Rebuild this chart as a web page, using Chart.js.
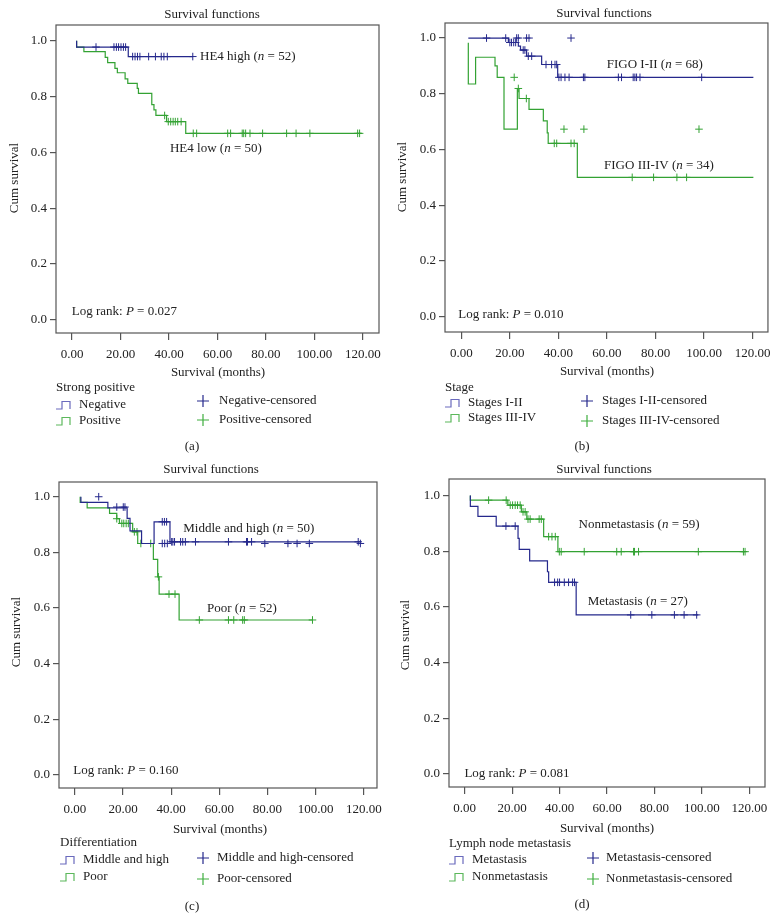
<!DOCTYPE html>
<html>
<head>
<meta charset="utf-8">
<script src="https://cdn.jsdelivr.net/npm/chart.js@4.4.0/dist/chart.umd.min.js"></script>
<style>
html, body { margin: 0; padding: 0; background: #fff; }
#wrap { position: relative; width: 778px; height: 919px; }
canvas { position: absolute; }
</style>
</head>
<body>
<div id="wrap">
  <canvas id="pa" width="389" height="455" style="left:0;top:0"></canvas>
  <canvas id="pb" width="389" height="455" style="left:389px;top:0"></canvas>
  <canvas id="pc" width="389" height="464" style="left:0;top:455px"></canvas>
  <canvas id="pd" width="389" height="464" style="left:389px;top:455px"></canvas>
</div>
<script>
// axis ticks
var xTicks = [0, 20, 40, 60, 80, 100, 120];
var yTicks = [0, 0.2, 0.4, 0.6, 0.8, 1.0];

// (a) HE4 high / low
var aHighTime = [1.9, 1.9, 23.2, 49.8];
var aHighSurv = [1.0, 0.977, 0.943, 0.943];
var aHighCensT = [9.9, 17.3, 18.3, 19.2, 20.2, 21.2, 22.1, 25.0, 26.0, 27.0, 28.0, 31.6, 34.4, 36.8, 37.9, 39.3, 49.8];
var aHighCensS = [0.977, 0.977, 0.977, 0.977, 0.977, 0.977, 0.977, 0.943, 0.943, 0.943, 0.943, 0.943, 0.943, 0.943, 0.943, 0.943, 0.943];
var aLowTime = [1.9, 1.9, 4.9, 13.7, 14.7, 17.7, 18.7, 21.9, 23.0, 26.9, 27.4, 32.9, 33.8, 34.6, 39.0, 46.9, 119.5];
var aLowSurv = [1.0, 0.977, 0.961, 0.940, 0.921, 0.901, 0.885, 0.863, 0.847, 0.829, 0.811, 0.771, 0.752, 0.732, 0.710, 0.668, 0.668];
var aLowCensT = [38.2, 39.7, 40.7, 41.7, 42.6, 43.6, 45.0, 50.0, 51.4, 64.2, 65.4, 70.2, 70.8, 71.6, 73.4, 78.6, 88.5, 92.4, 98.1, 117.8, 118.6];
var aLowCensS = [0.732, 0.71, 0.71, 0.71, 0.71, 0.71, 0.71, 0.668, 0.668, 0.668, 0.668, 0.668, 0.668, 0.668, 0.668, 0.668, 0.668, 0.668, 0.668, 0.668, 0.668];

// (b) FIGO stage
var bEarlyTime = [2.9, 19.4, 23.5, 24.4, 26.9, 33.1, 39.7, 120.3];
var bEarlySurv = [1.0, 0.984, 0.971, 0.957, 0.935, 0.905, 0.859, 0.859];
var bEarlyCensT = [10.4, 18.3, 22.8, 23.5, 26.9, 27.9, 45.2, 20.0, 20.7, 21.6, 22.4, 25.5, 26.2, 27.6, 29.0, 34.9, 37.2, 38.6, 39.3, 40.2, 41.1, 42.7, 44.4, 50.3, 50.9, 64.7, 66.0, 70.8, 71.5, 72.2, 73.6, 99.0];
var bEarlyCensS = [1, 1, 1, 1, 1, 1, 1, 0.984, 0.984, 0.984, 0.984, 0.957, 0.957, 0.935, 0.935, 0.905, 0.905, 0.905, 0.905, 0.859, 0.859, 0.859, 0.859, 0.859, 0.859, 0.859, 0.859, 0.859, 0.859, 0.859, 0.859, 0.859];
var bLateTime = [2.9, 2.9, 5.9, 13.9, 14.8, 17.6, 23.1, 23.8, 27.9, 33.8, 35.4, 35.8, 47.8, 120.3];
var bLateSurv = [0.983, 0.835, 0.931, 0.900, 0.859, 0.673, 0.819, 0.783, 0.744, 0.703, 0.660, 0.622, 0.500, 0.500];
var bLateCensT = [21.8, 23.5, 26.8, 42.3, 50.5, 97.9, 38.3, 39.3, 45.2, 46.5, 70.4, 79.2, 88.8, 92.8];
var bLateCensS = [0.859, 0.819, 0.783, 0.673, 0.673, 0.673, 0.622, 0.622, 0.622, 0.622, 0.5, 0.5, 0.5, 0.5];

// (c) differentiation
var cMidTime = [2.5, 2.5, 13.7, 21.7, 22.9, 27.7, 32.9, 39.5, 118.6];
var cMidSurv = [1.0, 0.980, 0.960, 0.922, 0.877, 0.832, 0.910, 0.838, 0.838];
var cMidCensT = [9.9, 17.4, 20.1, 20.8, 36.3, 37.2, 38.1, 36.3, 37.3, 38.4, 40.2, 40.7, 41.4, 43.9, 44.8, 45.9, 50.1, 63.8, 71.3, 71.7, 73.4, 78.9, 88.5, 92.3, 97.4, 117.7, 118.6];
var cMidCensS = [1.0, 0.963, 0.963, 0.963, 0.91, 0.91, 0.91, 0.832, 0.832, 0.832, 0.838, 0.838, 0.838, 0.838, 0.838, 0.838, 0.838, 0.838, 0.838, 0.838, 0.838, 0.832, 0.832, 0.832, 0.832, 0.838, 0.832];
var cPoorTime = [2.2, 2.2, 5.1, 14.4, 17.4, 18.5, 24.0, 26.1, 32.6, 34.4, 35.0, 43.3, 98.7];
var cPoorSurv = [1.0, 0.980, 0.960, 0.940, 0.921, 0.904, 0.874, 0.832, 0.775, 0.712, 0.650, 0.557, 0.557];
var cPoorCensT = [17.4, 19.5, 20.3, 21.3, 22.2, 24.7, 25.8, 27.4, 31.5, 34.7, 39.1, 41.6, 51.7, 63.8, 66.0, 69.7, 70.4, 98.7];
var cPoorCensS = [0.921, 0.904, 0.904, 0.904, 0.904, 0.874, 0.874, 0.832, 0.832, 0.712, 0.65, 0.65, 0.557, 0.557, 0.557, 0.557, 0.557, 0.557];

// (d) lymph node metastasis
var dMetTime = [2.4, 2.4, 5.6, 13.3, 22.5, 23.0, 27.4, 34.9, 35.4, 47.0, 98.5];
var dMetSurv = [1.0, 0.961, 0.925, 0.890, 0.846, 0.806, 0.765, 0.726, 0.688, 0.571, 0.571];
var dMetCensT = [17.4, 21.3, 37.9, 39.2, 40.0, 42.0, 43.8, 45.5, 46.3, 70.0, 78.9, 88.4, 92.5, 97.8];
var dMetCensS = [0.89, 0.89, 0.688, 0.688, 0.688, 0.688, 0.688, 0.688, 0.688, 0.571, 0.571, 0.571, 0.571, 0.571];
var dNonTime = [2.4, 2.4, 18.2, 23.9, 26.2, 33.3, 39.3, 118.2];
var dNonSurv = [1.0, 0.983, 0.965, 0.941, 0.915, 0.852, 0.798, 0.798];
var dNonCensT = [10.1, 17.5, 19.2, 20.2, 21.3, 22.3, 23.4, 24.6, 25.5, 26.7, 27.6, 31.4, 32.3, 35.4, 36.8, 38.2, 39.9, 40.7, 50.4, 64.1, 66.0, 71.2, 71.6, 73.3, 98.5, 117.5, 118.2];
var dNonCensS = [0.983, 0.983, 0.965, 0.965, 0.965, 0.965, 0.965, 0.941, 0.941, 0.915, 0.915, 0.915, 0.915, 0.852, 0.852, 0.852, 0.798, 0.798, 0.798, 0.798, 0.798, 0.798, 0.798, 0.798, 0.798, 0.798, 0.798];

var BLUE = '#25288c';
var GREEN = '#33a233';
var BLUE_ICON = '#6a6abd';
var GREEN_ICON = '#5cb85c';
var FONT = '"Liberation Serif", "DejaVu Serif", serif';
var INK = '#222';

var panels = [
    {
        id: 'pa', letter: '(a)', H: 455,
        box: { left: 56, top: 25, right: 379, bottom: 333 },
        xMin: -6.6, xMax: 126.6, yMin: -0.047, yMax: 1.056,
        series: [
            { t: aHighTime, s: aHighSurv, ct: aHighCensT, cs: aHighCensS, color: BLUE },
            { t: aLowTime, s: aLowSurv, ct: aLowCensT, cs: aLowCensS, color: GREEN }
        ],
        notes: [
            { x: 52.8, y: 0.943, parts: [['HE4 high ('], ['n', 1], [' = 52)']] },
            { x: 40.4, y: 0.615, parts: [['HE4 low ('], ['n', 1], [' = 50)']] },
            { x: -0.1, y: 0.030, parts: [['Log rank: '], ['P', 1], [' = 0.027']] }
        ],
        title: [212, 15], yTitle: [15, 178], xTitle: [218, 373],
        legend: { head: 'Strong positive', hy: 388, lx: 56, tx: 79, rows: [405, 421], cx: 203, ctx: 219, crows: [401, 420],
                  names: ['Negative', 'Positive'] },
        label: [192, 447]
    },
    {
        id: 'pb', letter: '(b)', H: 455,
        box: { left: 56, top: 23, right: 379, bottom: 332 },
        xMin: -6.7, xMax: 126.3, yMin: -0.055, yMax: 1.054,
        series: [
            { t: bEarlyTime, s: bEarlySurv, ct: bEarlyCensT, cs: bEarlyCensS, color: BLUE },
            { t: bLateTime, s: bLateSurv, ct: bLateCensT, cs: bLateCensS, color: GREEN }
        ],
        notes: [
            { x: 59.9, y: 0.903, parts: [['FIGO I-II ('], ['n', 1], [' = 68)']] },
            { x: 58.8, y: 0.542, parts: [['FIGO III-IV ('], ['n', 1], [' = 34)']] },
            { x: -1.2, y: 0.006, parts: [['Log rank: '], ['P', 1], [' = 0.010']] }
        ],
        title: [215, 14], yTitle: [14, 177], xTitle: [218, 372],
        legend: { head: 'Stage', hy: 388, lx: 56, tx: 79, rows: [403, 418], cx: 198, ctx: 213, crows: [401, 421],
                  names: ['Stages I-II', 'Stages III-IV'] },
        label: [193, 447]
    },
    {
        id: 'pc', letter: '(c)', H: 464,
        box: { left: 59, top: 27, right: 380, bottom: 333 },
        xMin: -6.6, xMax: 125.5, yMin: -0.047, yMax: 1.053,
        series: [
            { t: cMidTime, s: cMidSurv, ct: cMidCensT, cs: cMidCensS, color: BLUE },
            { t: cPoorTime, s: cPoorSurv, ct: cPoorCensT, cs: cPoorCensS, color: GREEN }
        ],
        notes: [
            { x: 45.0, y: 0.884, parts: [['Middle and high ('], ['n', 1], [' = 50)']] },
            { x: 54.9, y: 0.599, parts: [['Poor ('], ['n', 1], [' = 52)']] },
            { x: -0.7, y: 0.014, parts: [['Log rank: '], ['P', 1], [' = 0.160']] }
        ],
        title: [211, 15], yTitle: [17, 177], xTitle: [220, 375],
        legend: { head: 'Differentiation', hy: 388, lx: 60, tx: 83, rows: [405, 422], cx: 203, ctx: 217, crows: [403, 424],
                  names: ['Middle and high', 'Poor'] },
        label: [192, 452]
    },
    {
        id: 'pd', letter: '(d)', H: 464,
        box: { left: 60, top: 24, right: 376, bottom: 332 },
        xMin: -6.6, xMax: 126.6, yMin: -0.047, yMax: 1.059,
        series: [
            { t: dMetTime, s: dMetSurv, ct: dMetCensT, cs: dMetCensS, color: BLUE },
            { t: dNonTime, s: dNonSurv, ct: dNonCensT, cs: dNonCensS, color: GREEN }
        ],
        notes: [
            { x: 48.0, y: 0.897, parts: [['Nonmetastasis ('], ['n', 1], [' = 59)']] },
            { x: 51.9, y: 0.619, parts: [['Metastasis ('], ['n', 1], [' = 27)']] },
            { x: -0.1, y: 0.000, parts: [['Log rank: '], ['P', 1], [' = 0.081']] }
        ],
        title: [215, 15], yTitle: [17, 180], xTitle: [218, 374],
        legend: { head: 'Lymph node metastasis', hy: 389, lx: 60, tx: 83, rows: [405, 422], cx: 204, ctx: 217, crows: [403, 424],
                  names: ['Metastasis', 'Nonmetastasis'] },
        label: [193, 450]
    }
];

function toPoints(xs, ys) {
    var out = [];
    for (var i = 0; i < xs.length; i++) out.push({ x: xs[i], y: ys[i] });
    return out;
}

// text with italic pieces, drawn left-aligned from x
function drawRich(ctx, x, y, parts) {
    ctx.textBaseline = 'middle';
    ctx.textAlign = 'left';
    ctx.fillStyle = INK;
    for (var i = 0; i < parts.length; i++) {
        ctx.font = (parts[i][1] ? 'italic ' : '') + '13px ' + FONT;
        ctx.fillText(parts[i][0], x, y);
        x += ctx.measureText(parts[i][0]).width;
    }
}

function stepIcon(ctx, x, y, color) {
    ctx.strokeStyle = color;
    ctx.lineWidth = 1.2;
    ctx.beginPath();
    ctx.moveTo(x, y + 4);
    ctx.lineTo(x + 6, y + 4);
    ctx.lineTo(x + 6, y - 3.5);
    ctx.lineTo(x + 14, y - 3.5);
    ctx.lineTo(x + 14, y + 4);
    ctx.stroke();
}

function crossIcon(ctx, x, y, color) {
    ctx.strokeStyle = color;
    ctx.lineWidth = 1.2;
    ctx.beginPath();
    ctx.moveTo(x - 6, y); ctx.lineTo(x + 6, y);
    ctx.moveTo(x, y - 6); ctx.lineTo(x, y + 6);
    ctx.stroke();
}

var decorPlugin = {
    id: 'decor',
    afterDraw: function(chart) {
        var p = chart.options.plugins.decor.panel;
        var ctx = chart.ctx;
        var a = chart.chartArea;
        ctx.save();
        // frame
        ctx.strokeStyle = '#555';
        ctx.lineWidth = 1.2;
        ctx.strokeRect(a.left, a.top, a.right - a.left, a.bottom - a.top);

        ctx.fillStyle = INK;
        ctx.font = '13px ' + FONT;
        ctx.textAlign = 'center';
        ctx.textBaseline = 'middle';
        ctx.fillText('Survival functions', p.title[0], p.title[1]);
        ctx.fillText('Survival (months)', p.xTitle[0], p.xTitle[1]);
        ctx.fillText(p.letter, p.label[0], p.label[1]);

        ctx.save();
        ctx.translate(p.yTitle[0], p.yTitle[1]);
        ctx.rotate(-Math.PI / 2);
        ctx.fillText('Cum survival', 0, 0);
        ctx.restore();

        // in-plot labels, placed in data units
        var sx = chart.scales.x, sy = chart.scales.y;
        p.notes.forEach(function(n) {
            drawRich(ctx, sx.getPixelForValue(n.x), sy.getPixelForValue(n.y), n.parts);
        });

        // legend
        var L = p.legend;
        ctx.font = '13px ' + FONT;
        ctx.textAlign = 'left';
        ctx.fillStyle = INK;
        ctx.fillText(L.head, L.lx, L.hy);
        var iconCols = [BLUE_ICON, GREEN_ICON];
        var crossCols = [BLUE, '#3fae3f'];
        for (var i = 0; i < 2; i++) {
            stepIcon(ctx, L.lx, L.rows[i], iconCols[i]);
            ctx.fillStyle = INK;
            ctx.fillText(L.names[i], L.tx, L.rows[i]);
            crossIcon(ctx, L.cx, L.crows[i], crossCols[i]);
            ctx.fillStyle = INK;
            ctx.fillText(L.names[i] + '-censored', L.ctx, L.crows[i]);
        }
        ctx.restore();
    }
};

function makePanel(p) {
    var canvas = document.getElementById(p.id);
    var datasets = [];
    p.series.forEach(function(s) {
        datasets.push({
            type: 'line',
            data: toPoints(s.t, s.s),
            stepped: 'before',
            borderColor: s.color,
            borderWidth: 1.2,
            pointRadius: 0,
            fill: false
        });
    });
    p.series.forEach(function(s) {
        datasets.push({
            type: 'scatter',
            data: toPoints(s.ct, s.cs),
            pointStyle: 'cross',
            pointRadius: 3.8,
            borderColor: s.color,
            backgroundColor: s.color,
            borderWidth: 1
        });
    });

    return new Chart(canvas, {
        type: 'scatter',
        data: { datasets: datasets },
        options: {
            responsive: false,
            animation: false,
            layout: { padding: { left: 0, right: canvas.width - p.box.right, top: p.box.top, bottom: 0 } },
            plugins: {
                legend: { display: false },
                tooltip: { enabled: false },
                decor: { panel: p }
            },
            scales: {
                x: {
                    type: 'linear',
                    min: p.xMin,
                    max: p.xMax,
                    afterBuildTicks: function(scale) {
                        scale.ticks = xTicks.map(function(v) { return { value: v }; });
                    },
                    afterFit: function(scale) { scale.height = p.H - p.box.bottom; },
                    ticks: {
                        autoSkip: false,
                        maxRotation: 0,
                        padding: 7,
                        color: INK,
                        font: { family: FONT, size: 13 },
                        callback: function(v) { return Number(v).toFixed(2); }
                    },
                    grid: { drawOnChartArea: false, tickLength: 7, color: '#555', lineWidth: 1.2 },
                    border: { display: false }
                },
                y: {
                    type: 'linear',
                    min: p.yMin,
                    max: p.yMax,
                    afterBuildTicks: function(scale) {
                        scale.ticks = yTicks.map(function(v) { return { value: v }; });
                    },
                    afterFit: function(scale) { scale.width = p.box.left; },
                    ticks: {
                        padding: 3,
                        color: INK,
                        font: { family: FONT, size: 13 },
                        callback: function(v) { return Number(v).toFixed(1); }
                    },
                    grid: { drawOnChartArea: false, tickLength: 6, color: '#555', lineWidth: 1.2 },
                    border: { display: false }
                }
            }
        },
        plugins: [decorPlugin]
    });
}

panels.forEach(makePanel);
</script>
</body>
</html>
